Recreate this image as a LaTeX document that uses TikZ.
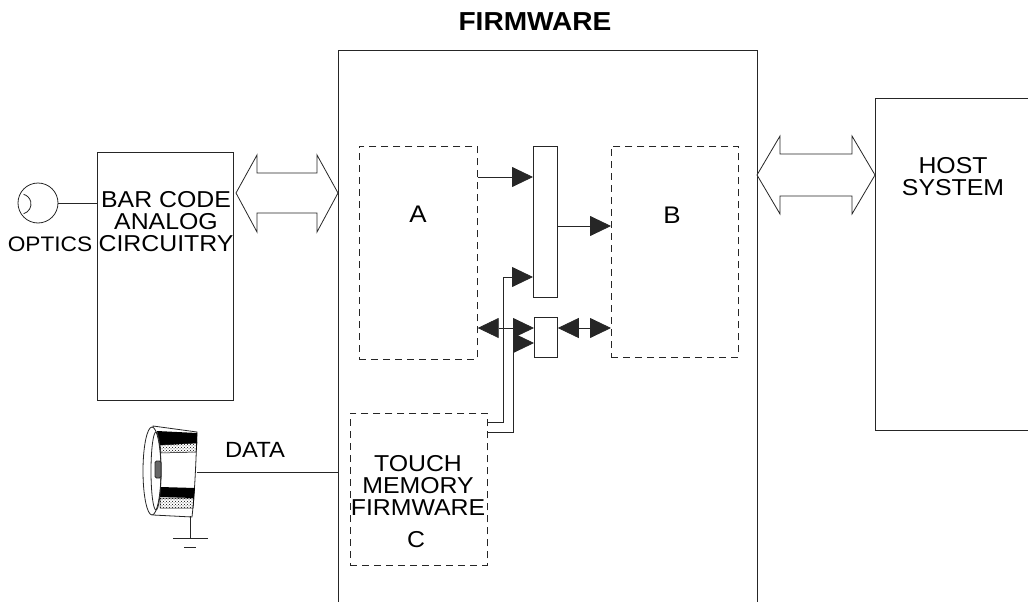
\documentclass[tikz,border=0pt]{standalone}
\usepackage{fontspec}
\setmainfont{Liberation Sans}[FakeStretch=1.08]
\usetikzlibrary{arrows.meta,patterns,calc}

\tikzset{
  ln/.style={line width=0.8pt, draw=black!85},
  box/.style={ln, draw, inner sep=0pt, anchor=north west},
  dbox/.style={box, dash pattern=on 7pt off 5pt, line width=0.7pt},
  lbl/.style={font=\fontsize{23}{22}\selectfont, inner sep=0pt, align=center},
  tri/.style={ln, -{Triangle[length=21pt,width=20pt]}},
  dtri/.style={ln, {Triangle[length=21pt,width=20pt]}-{Triangle[length=21pt,width=20pt]}},
  blockarrow/.style={ln, fill=white, line join=miter},
}

\begin{document}
\begin{tikzpicture}[x=1pt, y=-1pt]
\useasboundingbox (0,0) rectangle (1028,602);

% ---- title and the open firmware frame
\node[lbl, font=\bfseries\fontsize{26}{26}\selectfont] (title) at (535,22) {FIRMWARE};
\coordinate (fwBL) at (338,602);
\coordinate (fwTL) at (338,50);
\coordinate (fwTR) at (757,50);
\coordinate (fwBR) at (757,602);
\draw[ln] (fwBL) -- (fwTL) -- (fwTR) -- (fwBR);

% ---- host system (runs off the right edge)
\coordinate (hTR) at (1028,98);
\coordinate (hTL) at (875,98);
\coordinate (hBL) at (875,430);
\coordinate (hBR) at (1028,430);
\draw[ln] (hTR) -- (hTL) -- (hBL) -- (hBR);
\node[lbl] (hosttxt) at (953,177) {HOST\\SYSTEM};

% ---- bar code front end
\node[box, minimum width=136pt, minimum height=248pt] (bc) at (97,152) {};
\node[lbl] (bctxt) at (166,222) {BAR CODE\\ANALOG\\CIRCUITRY};
\node[ln, draw, circle, minimum size=40pt, inner sep=0pt] (opt) at (38,203) {};
\draw[ln] ([shift={(21,204)}]75:10) arc (75:-75:10);
\node[lbl, font=\fontsize{21}{21}\selectfont] (opttxt) at (50,244) {OPTICS};
\draw[ln] (opt.east) -- (bc.west |- opt.east);

% ---- wide double arrows (buses)
\draw[blockarrow] (236,193) -- (257,155) -- (257,173) -- (317,173) -- (317,155)
  -- (338,193) -- (317,232) -- (317,213) -- (257,213) -- (257,232) -- cycle;
\draw[blockarrow] (757,175) -- (780,136) -- (780,154) -- (852,154) -- (852,136)
  -- (875,175) -- (852,214) -- (852,196) -- (780,196) -- (780,214) -- cycle;

% ---- firmware blocks
\node[dbox, minimum width=118pt, minimum height=213pt] (A) at (359,146) {};
\node[lbl, font=\fontsize{24}{24}\selectfont] (Atxt) at (418,214) {A};
\node[dbox, minimum width=127pt, minimum height=211pt] (B) at (611,146) {};
\node[lbl, font=\fontsize{24}{24}\selectfont] (Btxt) at (672,215) {B};
\node[dbox, minimum width=137pt, minimum height=152pt] (C) at (350,413) {};
\node[lbl] (Ctxt) at (418,485) {TOUCH\\MEMORY\\FIRMWARE};
\node[lbl] (Clet) at (416,540) {C};
\node[box, minimum width=24pt, minimum height=151pt] (mux) at (533,146) {};
\node[box, minimum width=23pt, minimum height=40pt] (sm) at (534,317) {};

% ---- internal connections
\draw[tri] (A.east |- 0,177) -- (mux.west |- 0,177);
\draw[tri] (mux.east |- 0,226) -- (B.west |- 0,226);
\draw[dtri] (A.east |- 0,328) -- (sm.west |- 0,328);
\draw[dtri] (sm.east |- 0,328) -- (B.west |- 0,328);
\draw[tri] (C.east |- 0,422) -- (503,422) -- (503,277) -- (mux.west |- 0,277);
\draw[tri] (C.east |- 0,432) -- (513,432) -- (513,343) -- (sm.west |- 0,343);

% ---- touch memory button
\coordinate (tmout) at (197,472);
\coordinate (tmgnd) at (190,516);
\coordinate (fwdata) at (338,472);
\draw[ln, fill=white] (153,426) -- (197,432) .. controls (196,460) and (195,490) .. (192,517)
  -- (153,515) -- cycle;
\fill[black] (157,431) -- (197,433) -- (197,443) -- (160,445) -- cycle;
\draw[line width=0.5pt, pattern=crosshatch dots] (160,445) -- (197,443) -- (196,452) -- (161,453) -- cycle;
\fill[black] (160,487) -- (195,488) -- (194,498) -- (160,497) -- cycle;
\draw[line width=0.5pt, pattern=crosshatch dots] (160,498) -- (194,498) -- (193,508) -- (160,508) -- cycle;
\draw[ln, fill=white] (152,471) ellipse [x radius=9, y radius=44];
\draw[ln] (156,471) ellipse [x radius=5, y radius=39];
\draw[ln, fill=black!60, rounded corners=1.5pt] (155,461) rectangle (161,478);
\draw[ln] (tmout) -- (fwdata);
\node[lbl, font=\fontsize{22}{22}\selectfont] (datatxt) at (255,450) {DATA};
\coordinate (g1) at (190,538);
\draw[ln] (tmgnd) -- (g1);
\draw[ln] (173,538) -- (208,538);
\draw[ln] (184,547) -- (196,547);
\end{tikzpicture}
\end{document}
